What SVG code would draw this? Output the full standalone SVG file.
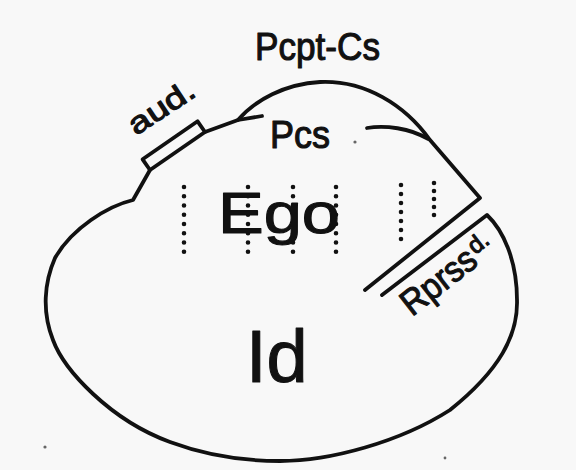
<svg xmlns="http://www.w3.org/2000/svg" width="576" height="470" viewBox="0 0 576 470">
  <style>
    .ln { fill: none; stroke: #111; stroke-width: 3.8; stroke-linejoin: round; stroke-linecap: round; }
    .dots { stroke: #111; stroke-width: 4.6; stroke-linecap: round; }
    .t { font-family: "Liberation Sans", Arial, sans-serif; fill: #111; stroke: #111; stroke-width: 1.1; stroke-linejoin: round; }
  </style>
  <rect x="0" y="0" width="576" height="470" fill="#f8f8f8"/>

  <g id="outline">
    <path class="ln" d="M 365,290 L 480,198 L 430,140
      C 405,105 365,80 320,82
      C 285,84 255,100 238,120
      L 205,132 L 150,170 L 133,200
      C 108,206 72,228 55,258
      C 44,283 42,312 53,340
      C 64,370 110,420 170,442
      C 205,455 245,461 280,461
      C 330,461 400,442 450,410
      C 500,370 518,335 517,300
      C 517,260 503,230 487,215
      L 382,295"/>
    <path class="ln" d="M 238,120 L 262,116"/>
    <path class="ln" d="M 367,128 C 385,125 410,128 428,139"/>
  </g>

  <g id="aud-box">
    <path class="ln" d="M 150,170 L 142.6,159.3 L 197.6,121.3 L 205,132"/>
  </g>

  <g id="ego-dots">
    <line class="dots" x1="184" y1="187" x2="184" y2="261" stroke-dasharray="0 9.25"/>
    <line class="dots" x1="248" y1="187" x2="248" y2="261" stroke-dasharray="0 9.25"/>
    <line class="dots" x1="293" y1="187" x2="293" y2="261" stroke-dasharray="0 9.25"/>
    <line class="dots" x1="336" y1="187" x2="336" y2="261" stroke-dasharray="0 9.25"/>
    <line class="dots" x1="401" y1="185" x2="401" y2="248" stroke-dasharray="0 9"/>
    <line class="dots" x1="434" y1="183" x2="434" y2="223" stroke-dasharray="0 8"/>
  </g>

  <g id="labels">
    <text class="t" x="255" y="60" font-size="38" textLength="125" lengthAdjust="spacingAndGlyphs">Pcpt-Cs</text>
    <text class="t" x="270" y="148" font-size="38" textLength="60" lengthAdjust="spacingAndGlyphs">Pcs</text>
    <text class="t" x="218" y="233" font-size="57" textLength="122" lengthAdjust="spacingAndGlyphs">Ego</text>
    <text class="t" x="246" y="382" font-size="74" stroke-width="1.6">Id</text>
    <text class="t" font-size="30" textLength="74" lengthAdjust="spacingAndGlyphs" transform="translate(136,136) rotate(-33.5)">aud.</text>
    <text class="t" font-size="36" transform="translate(412,317) rotate(-38)"><tspan textLength="86" lengthAdjust="spacingAndGlyphs">Rprss</tspan><tspan dx="2" dy="-10" font-size="24">d.</tspan></text>
  </g>

  <g id="specks" fill="#666">
    <circle cx="355" cy="142" r="1.6"/>
    <circle cx="45" cy="447" r="1.6"/>
    <circle cx="445" cy="458" r="1.4"/>
  </g>
</svg>
